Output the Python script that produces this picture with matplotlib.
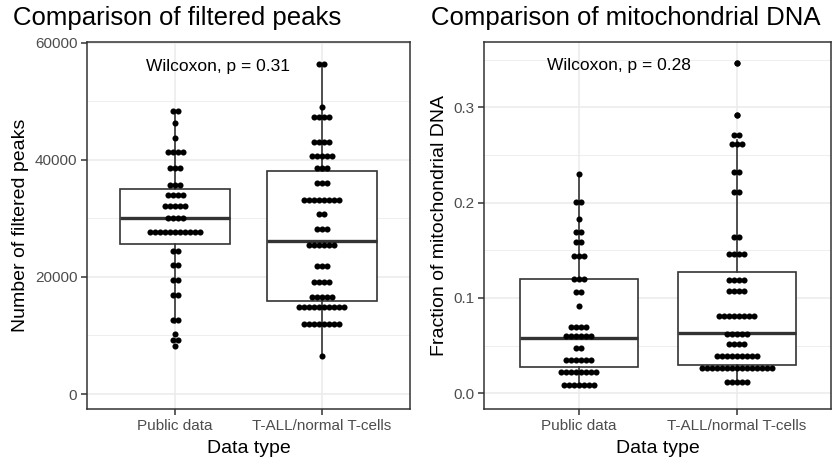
import numpy as np
import matplotlib
matplotlib.use("Agg")
import matplotlib.pyplot as plt

plt.rcParams['font.family'] = ['Liberation Sans', 'DejaVu Sans']

groups = ["Public data", "T-ALL/normal T-cells"]

# filtered peaks, dot rows: value and number of dots in the row
peaks_public_y = [48400, 46200, 43700, 41300, 38600, 35600, 33900, 32100, 30000,
                  27700, 24500, 22100, 19400, 16900, 12700, 9200]
peaks_public_n = [2, 1, 1, 4, 3, 3, 4, 5, 4, 11, 2, 2, 2, 2, 2, 2]
peaks_tall_y = [56350, 48960, 47250, 43000, 40600, 38560, 36000, 33200, 30800,
                28200, 25500, 21900, 19100, 16600, 14800, 11900, 6500]
peaks_tall_n = [2, 1, 4, 4, 5, 3, 3, 8, 2, 3, 6, 3, 4, 5, 10, 8, 1]

# box stats per group (public, T-ALL)
peaks_q1 = [25600, 15800]
peaks_med = [30100, 26100]
peaks_q3 = [35000, 38000]
peaks_lo = [12100, 6500]
peaks_hi = [48400, 56350]
peaks_out = [[10300, 8200], []]

# mitochondrial fraction, dot rows
mito_public_y = [0.2298, 0.2011, 0.1826, 0.1696, 0.159, 0.1443, 0.1195, 0.1059,
                 0.0915, 0.0698, 0.060, 0.047, 0.0348, 0.0225, 0.0085]
mito_public_n = [1, 2, 1, 2, 2, 3, 3, 2, 1, 4, 6, 2, 6, 8, 7]
mito_tall_y = [0.3464, 0.2921, 0.271, 0.262, 0.232, 0.2116, 0.1643, 0.1461, 0.1188,
               0.1076, 0.081, 0.0621, 0.0516, 0.039, 0.026, 0.012]
mito_tall_n = [1, 1, 2, 3, 2, 2, 2, 4, 4, 4, 8, 5, 4, 9, 15, 5]

mito_q1 = [0.0271, 0.0295]
mito_med = [0.0582, 0.0628]
mito_q3 = [0.1195, 0.1275]
mito_lo = [0.0085, 0.012]
mito_hi = [0.2298, 0.266]
mito_out = [[], [0.3464, 0.2921]]

W, H = 838, 459
DARK = '#333333'
PITCH_PX = 5.0
DOT_PX = 6.1

fig = plt.figure(figsize=(W / 100, H / 100), dpi=100)


def draw_panel(left_px, right_px, rows, q1, med, q3, lo, hi, out,
               ylim, yticks, yminor, ylabels, ylabel, ptext, ptext_y):
    top_px, bot_px = 42, 409
    ax = fig.add_axes([left_px / W, 1 - bot_px / H,
                       (right_px - left_px) / W, (bot_px - top_px) / H])
    ax.set_xlim(0.4, 2.6)
    ax.set_ylim(*ylim)

    stats = []
    for i in range(2):
        stats.append(dict(med=med[i], q1=q1[i], q3=q3[i], whislo=lo[i],
                          whishi=hi[i], fliers=out[i]))
    ax.bxp(stats, positions=[1, 2], widths=0.75, patch_artist=True,
           showcaps=False,
           boxprops=dict(facecolor='white', edgecolor=DARK, linewidth=1.2),
           medianprops=dict(color=DARK, linewidth=2.4),
           whiskerprops=dict(color=DARK, linewidth=1.2),
           flierprops=dict(marker='o', markerfacecolor='black',
                           markeredgecolor='black', markersize=DOT_PX * 0.72,
                           markeredgewidth=0),
           zorder=2)

    pitch = PITCH_PX * 2.2 / (right_px - left_px)
    for i, (ys, ns) in enumerate(rows):
        xs, yv = [], []
        for y, n in zip(ys, ns):
            off = (np.arange(n) - (n - 1) / 2) * pitch
            xs.extend(i + 1 + off)
            yv.extend([y] * n)
        ax.scatter(xs, yv, s=(DOT_PX * 0.72) ** 2, color='black',
                   linewidths=0, zorder=3)

    ax.set_xticks([1, 2])
    ax.set_xticklabels(groups)
    ax.set_yticks(yticks)
    ax.set_yticklabels(ylabels)
    ax.set_yticks(yminor, minor=True)
    ax.set_axisbelow(True)
    ax.grid(which='major', color='#EBEBEB', linewidth=1.1)
    ax.grid(which='minor', color='#EBEBEB', linewidth=0.6)
    ax.tick_params(which='major', length=4, width=1.1, color=DARK,
                   labelsize=11, labelcolor='#4D4D4D', pad=3)
    ax.tick_params(which='minor', length=0)
    for s in ax.spines.values():
        s.set_color(DARK)
        s.set_linewidth(1.1)

    ax.set_xlabel("Data type", fontsize=14, labelpad=5)
    ax.set_ylabel(ylabel, fontsize=14, labelpad=4)
    ax.text(0.8, ptext_y, ptext, fontsize=12.5, ha='left', va='center')
    return ax


draw_panel(87, 410, [(peaks_public_y, peaks_public_n), (peaks_tall_y, peaks_tall_n)],
           peaks_q1, peaks_med, peaks_q3, peaks_lo, peaks_hi, peaks_out,
           (-2560, 60100), [0, 20000, 40000, 60000], [10000, 30000, 50000],
           ["0", "20000", "40000", "60000"], "Number of filtered peaks",
           "Wilcoxon, p = 0.31", 55900)

draw_panel(484.4, 831.2, [(mito_public_y, mito_public_n), (mito_tall_y, mito_tall_n)],
           mito_q1, mito_med, mito_q3, mito_lo, mito_hi, mito_out,
           (-0.0167, 0.3688), [0.0, 0.1, 0.2, 0.3], [0.05, 0.15, 0.25, 0.35],
           ["0.0", "0.1", "0.2", "0.3"], "Fraction of mitochondrial DNA",
           "Wilcoxon, p = 0.28", 0.3436)

fig.text(13 / W, 1 - 18 / H, "Comparison of filtered peaks", fontsize=18.5,
         ha='left', va='center')
fig.text(431 / W, 1 - 18 / H, "Comparison of mitochondrial DNA", fontsize=18.5,
         ha='left', va='center')

fig.savefig("out.png", dpi=100)
